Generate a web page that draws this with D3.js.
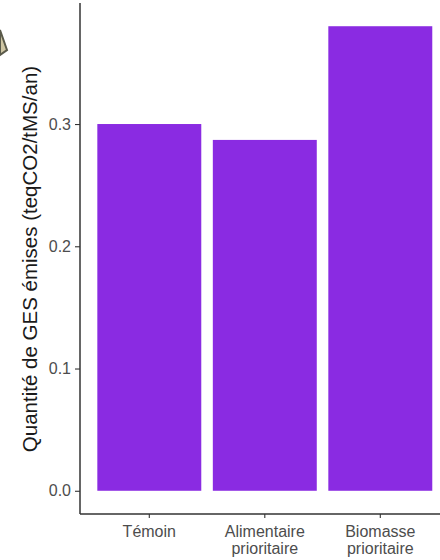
<!DOCTYPE html>
<html>
<head>
<meta charset="utf-8">
<script src="https://cdn.jsdelivr.net/npm/d3@7"></script>
<style>
  html, body { margin: 0; padding: 0; background: #fff; }
  svg { display: block; }
</style>
</head>
<body>
<svg id="chart" width="440" height="560"></svg>
<script>
// ---- data ----
const categories = ["Témoin", "Alimentaire\nprioritaire", "Biomasse\nprioritaire"];
const values = [0.300, 0.287, 0.380];
const yTicks = [0.0, 0.1, 0.2, 0.3];
const yTitle = "Quantité de GES émises (teqCO2/tMS/an)";

(function () {
const svg = d3.select("#chart");
const W = 440, H = 560;
const mLeft = 80, mBottom = 514, mTop = 3;

const data = categories.map((c, i) => ({ cat: c, val: values[i] }));

// ggplot-like expansion: 5% of range
const maxV = d3.max(values);
const y = d3.scaleLinear()
  .domain([-0.05 * maxV, maxV * 1.05])
  .range([mBottom, mTop]);

const x = d3.scaleBand()
  .domain(categories)
  .range([mLeft, mLeft + 369.6])
  .paddingInner(0.1)
  .paddingOuter(0.15);

// small icon fragment at top-left
svg.append("path")
  .attr("d", "M0,30 L7,50 L0,55 Z")
  .attr("fill", "#cfc6a4")
  .attr("stroke", "#5a5a4a")
  .attr("stroke-width", 2);

// bars
svg.append("g").selectAll("rect")
  .data(data)
  .join("rect")
  .attr("x", d => x(d.cat))
  .attr("width", x.bandwidth())
  .attr("y", d => y(d.val))
  .attr("height", d => y(0) - y(d.val))
  .attr("fill", "#8a2be2");

// y axis
const yAxis = d3.axisLeft(y).tickValues(yTicks).tickFormat(d3.format(".1f"))
  .tickSize(5).tickPadding(4);
const gy = svg.append("g").attr("transform", `translate(${mLeft},0)`).call(yAxis);
gy.select(".domain").remove();
gy.selectAll(".tick line").attr("stroke", "#333").attr("stroke-width", 1.1);
gy.selectAll(".tick text")
  .attr("fill", "#4d4d4d")
  .style("font-family", "Liberation Sans, Arial, sans-serif")
  .style("font-size", "16px");

// x axis
const xAxis = d3.axisBottom(x).tickSize(4).tickFormat("");
const gx = svg.append("g").attr("transform", `translate(0,${mBottom})`).call(xAxis);
gx.select(".domain").remove();
gx.selectAll(".tick line").attr("stroke", "#333").attr("stroke-width", 1.1);

// x labels (multi-line)
const xl = svg.append("g").selectAll("text")
  .data(categories)
  .join("text")
  .attr("x", d => x(d) + x.bandwidth() / 2)
  .attr("y", 537)
  .attr("text-anchor", "middle")
  .attr("fill", "#4d4d4d")
  .style("font-family", "Liberation Sans, Arial, sans-serif")
  .style("font-size", "16px");
xl.each(function(d) {
  const lines = d.split("\n");
  const t = d3.select(this);
  lines.forEach((ln, i) => {
    t.append("tspan")
      .attr("x", x(d) + x.bandwidth() / 2)
      .attr("dy", i === 0 ? 0 : 17)
      .text(ln);
  });
});

// axis lines
svg.append("line")
  .attr("x1", mLeft).attr("x2", mLeft)
  .attr("y1", mTop).attr("y2", mBottom)
  .attr("stroke", "#333").attr("stroke-width", 1.5);
svg.append("line")
  .attr("x1", mLeft).attr("x2", W)
  .attr("y1", mBottom).attr("y2", mBottom)
  .attr("stroke", "#333").attr("stroke-width", 1.5);

// y title
svg.append("text")
  .attr("transform", `translate(37,259) rotate(-90)`)
  .attr("text-anchor", "middle")
  .attr("fill", "#1a1a1a")
  .style("font-family", "Liberation Sans, Arial, sans-serif")
  .style("font-size", "20.5px")
  .text(yTitle);
})();
</script>
</body>
</html>
